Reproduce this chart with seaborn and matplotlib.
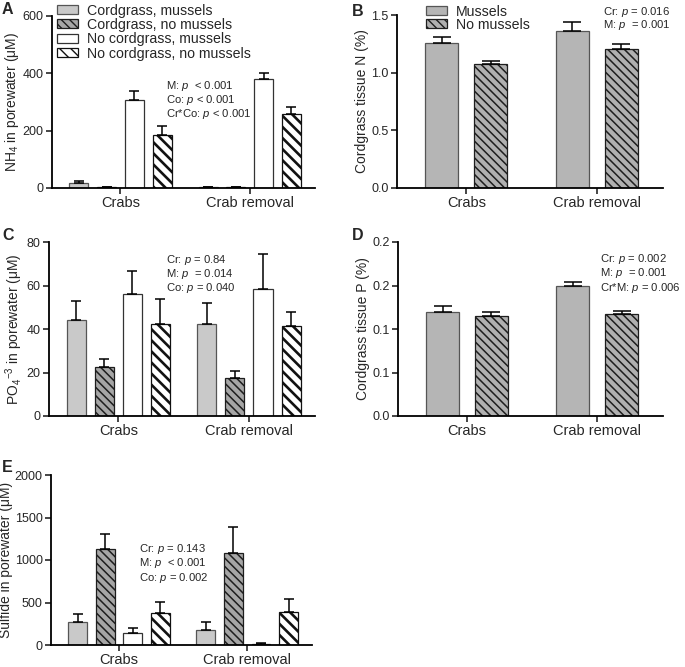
import numpy as np
import pandas as pd
import matplotlib
matplotlib.use("Agg")
import matplotlib.pyplot as plt
import matplotlib.patches as mpatches
import seaborn as sns

# ---------------- data ----------------
sites = ["Crabs", "Crab removal"]
treat4 = ["Cordgrass, mussels", "Cordgrass, no mussels",
          "No cordgrass, mussels", "No cordgrass, no mussels"]
treat2 = ["Mussels", "No mussels"]

# A: NH4 in porewater (uM)
nh4_crabs = [19, 4, 307, 185]
nh4_crabs_se = [7, 1, 31, 31]
nh4_removal = [4, 4, 379, 258]
nh4_removal_se = [1, 1, 21, 24]

# B: cordgrass tissue N (%)
tn_crabs = [1.255, 1.072]
tn_crabs_se = [0.054, 0.029]
tn_removal = [1.364, 1.208]
tn_removal_se = [0.078, 0.038]

# C: PO4 in porewater (uM)
po4_crabs = [44.3, 22.3, 56.3, 42.5]
po4_crabs_se = [8.8, 3.7, 10.2, 11.3]
po4_removal = [42.5, 17.3, 58.6, 41.3]
po4_removal_se = [9.3, 3.2, 15.7, 6.6]

# D: cordgrass tissue P (%)
tp_crabs = [0.120, 0.115]
tp_crabs_se = [0.006, 0.005]
tp_removal = [0.150, 0.117]
tp_removal_se = [0.004, 0.004]
tp_ticks = [0.0, 0.05, 0.10, 0.15, 0.20]
tp_ticklabels = ["0.0", "0.1", "0.1", "0.2", "0.2"]

# E: sulfide in porewater (uM)
sul_crabs = [275, 1129, 141, 373]
sul_crabs_se = [86, 177, 63, 133]
sul_removal = [176, 1086, 12, 392]
sul_removal_se = [99, 306, 6, 145]

# ---------------- style ----------------
sns.set_style("ticks")
plt.rcParams["font.family"] = ["Liberation Sans", "DejaVu Sans"]
plt.rcParams["mathtext.fontset"] = "custom"
plt.rcParams["mathtext.rm"] = "Liberation Sans"
plt.rcParams["mathtext.it"] = "Liberation Sans:italic"
plt.rcParams["mathtext.bf"] = "Liberation Sans:bold"

W, H = 685, 667
fig = plt.figure(figsize=(W / 100, H / 100), dpi=100)


def fx(px):
    return px / W


def fy(py):
    return 1 - py / H


def add_axes(x0, y0, x1, y1):
    return fig.add_axes([fx(x0), fy(y1), fx(x1 - x0), (y1 - y0) / H])


HATCH_FINE = "\\\\\\\\"
HATCH_WIDE = "\\\\\\"

styles4 = [
    dict(fc="#c9c9c9", ec="#555555", hatch=None, hlw=1.0),
    dict(fc="#a6a6a6", ec="#1e1e1e", hatch=HATCH_FINE, hlw=1.1),
    dict(fc="#ffffff", ec="#333333", hatch=None, hlw=1.0),
    dict(fc="#ffffff", ec="#111111", hatch=HATCH_WIDE, hlw=1.9),
]
styles2 = [
    dict(fc="#b5b5b5", ec="#555555", hatch=None, hlw=1.0),
    dict(fc="#b0b0b0", ec="#1e1e1e", hatch=HATCH_FINE, hlw=1.1),
]


def style_patch(p, st):
    p.set_facecolor(st["fc"])
    p.set_edgecolor(st["ec"])
    p.set_linewidth(0.9)
    if st["hatch"]:
        p.set_hatch(st["hatch"])
        if hasattr(p, "set_hatch_linewidth"):
            p.set_hatch_linewidth(st["hlw"])


def panel(ax, treatments, crabs, crabs_se, removal, removal_se, styles,
          width, gap, capsize, ylim, yticks, ylabel, yticklabels=None):
    n = len(treatments)
    df = pd.DataFrame({
        "site": [sites[0]] * n + [sites[1]] * n,
        "treatment": treatments * 2,
        "value": list(crabs) + list(removal),
        "se": list(crabs_se) + list(removal_se),
    })
    sns.barplot(data=df, x="site", y="value", hue="treatment", order=sites,
                hue_order=treatments, palette=[s["fc"] for s in styles],
                saturation=1, width=width, gap=gap, errorbar=None,
                legend=False, ax=ax)
    bar_containers = list(ax.containers)
    for i, cont in enumerate(bar_containers):
        for j, p in enumerate(cont.patches):
            style_patch(p, styles[i])
            se = df[(df.site == sites[j]) & (df.treatment == treatments[i])]["se"].iloc[0]
            xc = p.get_x() + p.get_width() / 2
            yt = p.get_height()
            ax.errorbar([xc], [yt], yerr=[[0], [se]], fmt="none", ecolor="black",
                        elinewidth=1.1, capsize=capsize, capthick=1.1, zorder=1)
    ax.set_xlim(-0.53, 1.505)
    ax.set_ylim(*ylim)
    ax.set_yticks(yticks)
    if yticklabels is not None:
        ax.set_yticklabels(yticklabels)
    ax.set_xlabel("")
    ax.set_ylabel(ylabel, fontsize=10, labelpad=1.5)
    ax.tick_params(axis="x", labelsize=10.5, length=4, width=1.2, pad=2)
    ax.tick_params(axis="y", labelsize=9, length=4, width=1.2, pad=2)
    for s in ["top", "right"]:
        ax.spines[s].set_visible(False)
    for s in ["left", "bottom"]:
        ax.spines[s].set_linewidth(1.3)
        ax.spines[s].set_color("black")


def legend_handles(treatments, styles):
    hs = []
    for t, st in zip(treatments, styles):
        p = mpatches.Patch(facecolor=st["fc"], edgecolor=st["ec"],
                           hatch=st["hatch"], linewidth=0.9, label=t)
        if st["hatch"] and hasattr(p, "set_hatch_linewidth"):
            p.set_hatch_linewidth(st["hlw"])
        hs.append(p)
    return hs


def annot(lines, x, ys, size=8.1):
    for t, y in zip(lines, ys):
        fig.text(fx(x), fy(y), t, fontsize=size, va="center", ha="left")


# ---- A ----
axA = add_axes(52, 16, 315, 188)
panel(axA, treat4, nh4_crabs, nh4_crabs_se, nh4_removal, nh4_removal_se,
      styles4, 0.86, 0.32, 3.9, (0, 600), [0, 200, 400, 600],
      r"NH$_4$ in porewater (μM)")
fig.legend(handles=legend_handles(treat4, styles4), loc="upper left",
           bbox_to_anchor=(fx(57), fy(3.5)), bbox_transform=fig.transFigure,
           frameon=False, fontsize=10.2, handlelength=1.45, handleheight=0.6,
           handletextpad=0.65, labelspacing=0.03, borderpad=0, borderaxespad=0)
annot(["M: $p$  < 0.001", "Co: $p$ < 0.001", "Cr*Co: $p$ < 0.001"], 166, [86, 100, 114])

# ---- B ----
axB = add_axes(397, 15, 663, 188)
panel(axB, treat2, tn_crabs, tn_crabs_se, tn_removal, tn_removal_se,
      styles2, 0.75, 0.325, 6.5, (0, 1.5), [0, 0.5, 1.0, 1.5],
      "Cordgrass tissue N (%)", ["0.0", "0.5", "1.0", "1.5"])
fig.legend(handles=legend_handles(treat2, styles2), loc="upper left",
           bbox_to_anchor=(fx(426), fy(4.5)), bbox_transform=fig.transFigure,
           frameon=False, fontsize=10.2, handlelength=1.45, handleheight=0.6,
           handletextpad=0.65, labelspacing=-0.05, borderpad=0, borderaxespad=0)
annot(["Cr: $p$ = 0.016", "M: $p$  = 0.001"], 603, [12, 24.5])

# ---- C ----
axC = add_axes(49, 242, 315, 416)
panel(axC, treat4, po4_crabs, po4_crabs_se, po4_removal, po4_removal_se,
      styles4, 0.86, 0.32, 3.9, (0, 80), [0, 20, 40, 60, 80],
      r"PO$_4$$^{-3}$ in porewater (μM)")
annot(["Cr: $p$ = 0.84", "M: $p$  = 0.014", "Co: $p$ = 0.040"], 166, [260, 274, 288])

# ---- D ----
axD = add_axes(398, 242, 663, 416)
panel(axD, treat2, tp_crabs, tp_crabs_se, tp_removal, tp_removal_se,
      styles2, 0.75, 0.325, 6.5, (0, 0.2), tp_ticks,
      "Cordgrass tissue P (%)", tp_ticklabels)
annot(["Cr: $p$ = 0.002", "M: $p$  = 0.001", "Cr*M: $p$ = 0.006"], 600, [259, 273, 288])

# ---- E ----
axE = add_axes(51, 475, 312, 645)
panel(axE, treat4, sul_crabs, sul_crabs_se, sul_removal, sul_removal_se,
      styles4, 0.86, 0.32, 3.9, (0, 2000), [0, 500, 1000, 1500, 2000],
      "Sulfide in porewater (μM)")
annot(["Cr: $p$ = 0.143", "M: $p$  < 0.001", "Co: $p$ = 0.002"], 139, [549, 563, 578])

# panel letters
for letter, x, y in [("A", 2, 10), ("B", 352, 12), ("C", 2, 236),
                     ("D", 352, 236), ("E", 2, 468)]:
    fig.text(fx(x), fy(y), letter, fontsize=11.5, fontweight="bold",
             va="center", ha="left")

fig.savefig("out.png", dpi=100)
